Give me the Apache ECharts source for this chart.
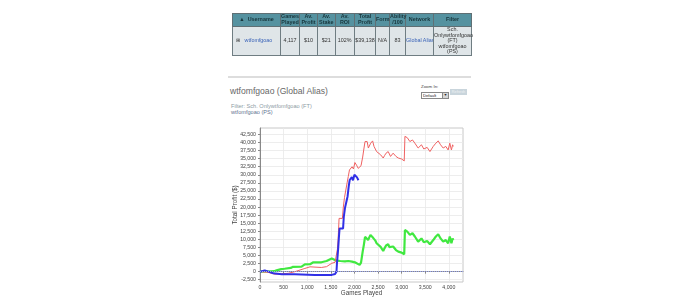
<!DOCTYPE html>
<html>
<head>
<meta charset="utf-8">
<script src="https://cdn.jsdelivr.net/npm/echarts@6/dist/echarts.min.js"></script>
<style>
  body{
    margin: 0;
    width: 700px;
    height: 305px;
    background: #ffffff;
    overflow: hidden;
    font-family: "Liberation Sans", Arial, sans-serif;
  }
  #profitChart{
    position: absolute;
    left: 0;
    top: 0;
    width: 700px;
    height: 305px;
  }
  .statsTable{
    position: absolute;
    left: 232px;
    top: 13px;
    width: 239px;
    border-collapse: collapse;
    table-layout: fixed;
    font-size: 5.4px;
    z-index: 2;
  }
  .statsTable th{
    background: #5592a0;
    color: #17353b;
    height: 12px;
    padding: 0;
    border: 1px solid #5f6f74;
    line-height: 5.6px;
    font-weight: bold;
  }
  .statsTable td{
    background: #dfe5e8;
    color: #333333;
    height: 28px;
    padding: 0;
    border: 1px solid #6f7d82;
    text-align: center;
    line-height: 5.6px;
  }
  .statsTable .link{
    color: #3a63b8;
  }
  .statsTable .nowrap{
    white-space: nowrap;
    overflow: hidden;
  }
  .separator{
    position: absolute;
    left: 228px;
    top: 76px;
    width: 243px;
    height: 2px;
    background: #dddddd;
  }
  .aliasTitle{
    position: absolute;
    left: 230px;
    top: 86px;
    font-size: 8.6px;
    color: #676767;
  }
  .filterText{
    position: absolute;
    left: 231px;
    top: 102.5px;
    font-size: 5.6px;
    line-height: 6.4px;
    color: #8d9ba3;
  }
  .filterText span{
    color: #5f7390;
  }
  .zoomBox{
    position: absolute;
    left: 421px;
    top: 84px;
    font-size: 4.4px;
    color: #444444;
  }
  .zoomSelect{
    position: absolute;
    left: 421px;
    top: 91.5px;
    width: 25px;
    height: 5px;
    border: 0.7px solid #888888;
    background: #ffffff;
    font-size: 4.2px;
    line-height: 5px;
    padding-left: 1px;
    color: #222222;
  }
  .zoomSelect b{
    position: absolute;
    right: 0;
    top: 0;
    width: 5px;
    height: 5px;
    background: #d6d6d6;
    border-left: 0.7px solid #888888;
    font-size: 3.5px;
    text-align: center;
  }
  .refreshBtn{
    position: absolute;
    left: 450px;
    top: 89px;
    width: 17px;
    height: 6px;
    background: #c9d5dc;
    color: #eef2f4;
    font-size: 3.8px;
    line-height: 6px;
    text-align: center;
  }
</style>
</head>
<body>
<table class="statsTable">
  <colgroup>
    <col style="width:48px"><col style="width:19px"><col style="width:18px"><col style="width:17.5px">
    <col style="width:19.5px"><col style="width:21px"><col style="width:14px"><col style="width:16px">
    <col style="width:28px"><col style="width:38px">
  </colgroup>
  <tr>
    <th>&#9650;&nbsp; Username</th><th>Games Played</th><th>Av. Profit</th><th>Av. Stake</th><th>Av. ROI</th>
    <th>Total Profit</th><th>Form</th><th>Ability /100</th><th>Network</th><th>Filter</th>
  </tr>
  <tr>
    <td style="text-align:left;padding-left:3px">&#8862;&nbsp;&nbsp; <span class="link">wtfomfgoao</span></td>
    <td>4,117</td><td>$10</td><td>$21</td><td>102%</td><td>$39,138</td><td>N/A</td><td>83</td>
    <td class="link nowrap">Global Alias</td>
    <td>Sch.<br>Onlywtfomfgoao<br>(FT)<br>wtfomfgoao<br>(PS)</td>
  </tr>
</table>
<div class="separator"></div>
<div class="aliasTitle">wtfomfgoao (Global Alias)</div>
<div class="filterText">Filter: Sch. Onlywtfomfgoao (FT)<br><span>wtfomfgoao (PS)</span></div>
<div class="zoomBox">Zoom In:</div>
<div class="zoomSelect">Default<b>&#9660;</b></div>
<div class="refreshBtn">Refresh</div>
<div id="profitChart"></div>
<script>
  // tick labels
  var xTicks = [0, 500, 1000, 1500, 2000, 2500, 3000, 3500, 4000];
  var yTicks = [-2500, 0, 2500, 5000, 7500, 10000, 12500, 15000, 17500, 20000, 22500,
    25000, 27500, 30000, 32500, 35000, 37500, 40000, 42500];

  // total profit (red) - [games played, profit]
  var totalPoints = [[0,0],[170,-200],[320,-800],[600,-500],[740,0],[950,1000],[1060,1500],[1300,1300],
    [1410,1550],[1520,2600],[1590,2900],[1625,3500],[1640,7000],[1655,10000],[1675,16500],[1745,16500],
    [1765,20000],[1790,23000],[1830,23000],[1845,27500],[1870,29500],[1895,31500],[1920,31000],[1950,32500],
    [1980,31800],[2010,33800],[2045,33000],[2080,32000],[2110,31800],[2140,32800],[2175,35500],[2200,38000],
    [2225,40300],[2245,39800],[2270,40300],[2295,38300],[2345,39800],[2385,40500],[2415,38800],[2470,37200],
    [2555,36200],[2610,35200],[2640,36000],[2670,36700],[2715,37200],[2765,35700],[2820,36700],[2880,35700],
    [2930,35200],[3000,34900],[3055,34300],[3070,41900],[3120,41500],[3175,40300],[3230,40800],[3280,39800],
    [3350,38300],[3420,39300],[3470,38000],[3540,38500],[3600,37200],[3670,38800],[3725,39800],[3775,40500],
    [3825,39300],[3880,38300],[3935,38800],[3985,37700],[4020,39800],[4055,37700],[4080,39300],[4095,38800]];

  // Sch. Onlywtfomfgoao (FT) - blue
  var ftPoints = [[0,0],[100,400],[180,0],[280,-500],[460,-800],[740,-800],[1160,-1000],[1520,-1000],
    [1590,-700],[1620,0],[1630,2500],[1640,4200],[1655,7000],[1670,10300],[1685,13400],[1760,13400],
    [1775,17000],[1800,19700],[1830,19700],[1855,23300],[1880,26500],[1900,28400],[1920,27800],[1945,29300],
    [1970,28300],[2000,30000],[2030,30500],[2055,29200],[2085,28300]];

  // wtfomfgoao (PS) - green
  var psPoints = [[0,0],[150,50],[300,150],[350,400],[450,800],[520,900],[650,1150],[700,1500],[740,1550],
    [880,1550],[950,2250],[1060,2300],[1130,2900],[1300,2900],[1410,3300],[1520,4100],[1560,4000],[1620,3400],
    [1700,3300],[1800,3200],[1870,3300],[1950,3100],[2010,2900],[2050,2600],[2110,2100],[2140,2800],[2175,6200],
    [2200,8300],[2225,10800],[2250,10200],[2290,9800],[2340,11400],[2370,10900],[2400,10400],[2440,9700],
    [2470,8800],[2510,8300],[2555,7700],[2610,6400],[2640,7300],[2670,8100],[2715,8500],[2740,7600],[2770,7000],
    [2820,7800],[2850,7200],[2880,6700],[2930,6200],[2970,6000],[3000,5900],[3055,5400],[3070,12900],
    [3120,12400],[3175,11400],[3230,11900],[3280,10900],[3350,9300],[3420,10300],[3470,9100],[3540,9500],
    [3600,8500],[3670,9800],[3725,10900],[3775,11600],[3825,10300],[3880,9300],[3935,9800],[3985,8800],
    [4020,10900],[4055,8800],[4080,10300],[4095,9800]];

  var chart = echarts.init(document.getElementById('profitChart'));
  var tickFont = {fontSize: 5.2, color: '#444444', fontFamily: 'Liberation Sans'};

  chart.setOption({
    animation: false,
    grid: {
      left: 260,
      top: 128,
      right: 237,
      bottom: 23,
      show: true,
      borderColor: '#c8c8c8',
      borderWidth: 1,
      backgroundColor: '#ffffff'
    },
    xAxis: {
      type: 'value',
      min: 0,
      max: 4300,
      name: 'Games Played',
      nameLocation: 'middle',
      nameGap: 8,
      nameMoveOverlap: false,
      nameTextStyle: {fontSize: 6.3, color: '#444444', fontFamily: 'Liberation Sans'},
      axisLine: {lineStyle: {color: '#888888'}},
      axisTick: {show: true, length: 2, customValues: xTicks, lineStyle: {color: '#888888'}},
      axisLabel: Object.assign({
        customValues: xTicks,
        margin: 3,
        formatter: function (v) { return v.toLocaleString('en-US'); }
      }, tickFont),
      splitLine: {show: true, lineStyle: {color: '#e8e8e8', width: 0.8}}
    },
    yAxis: {
      type: 'value',
      min: -3200,
      max: 44500,
      name: 'Total Profit ($)',
      nameLocation: 'middle',
      nameGap: 22,
      nameMoveOverlap: false,
      nameTextStyle: {fontSize: 6.3, color: '#444444', fontFamily: 'Liberation Sans'},
      axisLine: {show: true, lineStyle: {color: '#888888'}},
      axisTick: {show: true, length: 2, customValues: yTicks, lineStyle: {color: '#888888'}},
      axisLabel: Object.assign({
        customValues: yTicks,
        margin: 4,
        formatter: function (v) { return v.toLocaleString('en-US'); }
      }, tickFont),
      splitLine: {show: true, lineStyle: {color: '#e8e8e8', width: 0.8}}
    },
    series: [
      {
        name: 'wtfomfgoao (PS)',
        type: 'line',
        data: psPoints,
        symbol: 'none',
        lineStyle: {color: '#40e840', width: 2.2},
        markLine: {
          silent: true,
          symbol: 'none',
          label: {show: false},
          lineStyle: {color: '#9aa6ee', type: 'dotted', width: 1},
          data: [{yAxis: 0}]
        }
      },
      {
        name: 'Total',
        type: 'line',
        data: totalPoints,
        symbol: 'none',
        lineStyle: {color: '#f06262', width: 1}
      },
      {
        name: 'Sch. Onlywtfomfgoao (FT)',
        type: 'line',
        data: ftPoints,
        symbol: 'none',
        lineStyle: {color: '#3030e6', width: 2}
      }
    ]
  });
</script>
</body>
</html>
